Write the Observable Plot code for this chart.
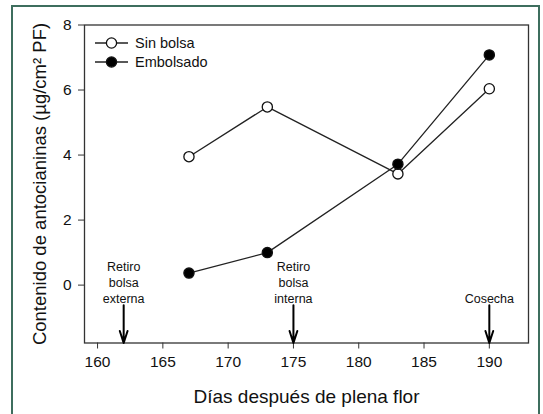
<!DOCTYPE html>
<html>
<head>
<meta charset="utf-8">
<script src="https://cdn.jsdelivr.net/npm/d3@7"></script>
<script src="https://cdn.jsdelivr.net/npm/@observablehq/plot@0.6"></script>
<style>
  html, body { margin: 0; padding: 0; background: #fff; }
  #wrap { position: relative; width: 543px; height: 414px; overflow: hidden; font-family: "Liberation Sans", Arial, sans-serif; }
  #border { position: absolute; left: 11px; top: 5px; width: 525px; height: 430px; border: 2px solid #3e6e5e; }
  #chart { position: absolute; left: 0; top: 0; }
  #legend { position: absolute; left: 0; top: 0; }
</style>
</head>
<body>
<div id="wrap"><div id="border"></div><div id="chart"></div><svg id="legend" width="543" height="414"></svg></div>
<script>
const days = [167, 173, 183, 190];
const sinBolsa = [3.95, 5.48, 3.42, 6.04];
const embolsado = [0.37, 1.0, 3.72, 7.08];
const seriesNames = ["Sin bolsa", "Embolsado"];
const eventDays = [162, 175, 190];
const eventLabels = ["Retiro\nbolsa\nexterna", "Retiro\nbolsa\ninterna", "Cosecha"];
const xTicks = [160, 165, 170, 175, 180, 185, 190];
const yTicks = [0, 2, 4, 6, 8];

const data = [
  ...days.map((d, i) => ({day: d, value: sinBolsa[i], series: seriesNames[0]})),
  ...days.map((d, i) => ({day: d, value: embolsado[i], series: seriesNames[1]}))
];
const events = eventDays.map((d, i) => ({day: d, label: eventLabels[i]}));

const chart = Plot.plot({
  width: 543,
  height: 414,
  marginLeft: 84,
  marginRight: 15,
  marginTop: 24.5,
  marginBottom: 71.5,
  style: {fontFamily: "Liberation Sans, Arial, sans-serif", fontSize: "15.5px", color: "#111", background: "transparent"},
  x: {domain: [159, 193]},
  y: {domain: [-1.78, 8]},
  marks: [
    Plot.frame({stroke: "#333", strokeWidth: 1.3}),
    Plot.axisX({ticks: xTicks, tickFormat: d => String(d), tickSize: 6, tickPadding: 7, fontSize: 15.5, stroke: "#333",
      label: "Días después de plena flor", labelAnchor: "center", labelArrow: "none", labelOffset: 60}),
    Plot.axisY({ticks: yTicks, tickFormat: d => String(d), tickSize: 6, tickPadding: 7, fontSize: 15.5, stroke: "#333",
      label: "Contenido de antocianinas (µg/cm² PF)", labelAnchor: "center", labelArrow: "none", labelOffset: 52}),
    Plot.line(data, {x: "day", y: "value", z: "series", stroke: "#222", strokeWidth: 1.3}),
    Plot.dot(data, {x: "day", y: "value", r: 5.1, stroke: "#111", strokeWidth: 1.3,
      fill: d => d.series === seriesNames[0] ? "white" : "black"}),
    Plot.arrow(events, {x1: "day", x2: "day", y1: -0.62, y2: -1.78, stroke: "#000", strokeWidth: 2, headLength: 13, headAngle: 36}),
    Plot.text(events, {x: "day", y: -0.6, text: "label", lineAnchor: "bottom", dy: -2, fontSize: 12.5, lineHeight: 1.25, fill: "#111"})
  ]
});
chart.querySelectorAll("g[aria-label='y-axis label'] text").forEach(t => t.style.fontSize = "18.5px");
chart.querySelectorAll("g[aria-label='x-axis label'] text").forEach(t => t.style.fontSize = "19px");
document.getElementById("chart").appendChild(chart);

// legend
const lg = d3.select("#legend");
const lx = 95, ly = 43, gap = 19;
seriesNames.forEach((name, i) => {
  const y = ly + i * gap;
  lg.append("line").attr("x1", lx).attr("x2", lx + 33).attr("y1", y).attr("y2", y).attr("stroke", "#222").attr("stroke-width", 1.3);
  lg.append("circle").attr("cx", lx + 16.5).attr("cy", y).attr("r", 5.1).attr("stroke", "#111").attr("stroke-width", 1.3)
    .attr("fill", i === 0 ? "white" : "black");
  lg.append("text").attr("x", lx + 40).attr("y", y).attr("dy", "0.35em").attr("font-size", 14.5)
    .attr("font-family", "Liberation Sans, Arial, sans-serif").attr("fill", "#111").text(name);
});
</script>
</body>
</html>
